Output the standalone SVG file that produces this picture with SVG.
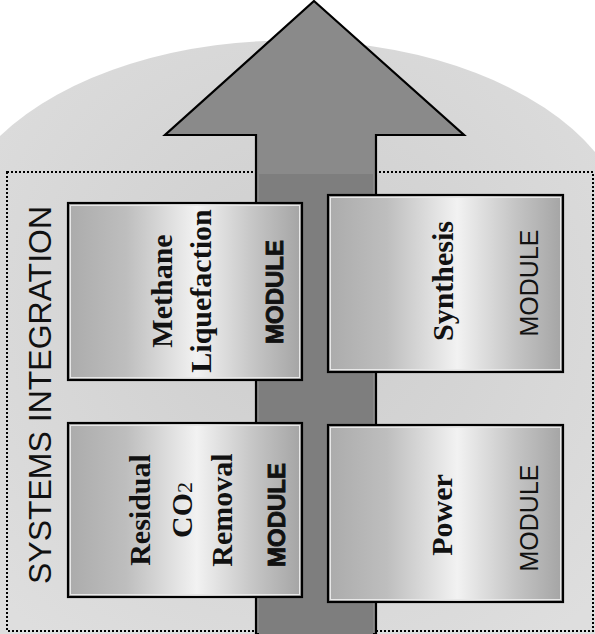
<svg xmlns="http://www.w3.org/2000/svg" width="595" height="634" viewBox="0 0 595 634">
  <defs>
    <linearGradient id="boxfill" x1="0" y1="0" x2="1" y2="0">
      <stop offset="0" stop-color="#ababab"/>
      <stop offset="0.25" stop-color="#bebebe"/>
      <stop offset="0.55" stop-color="#f2f2f2"/>
      <stop offset="0.8" stop-color="#c4c4c4"/>
      <stop offset="1" stop-color="#a4a4a4"/>
    </linearGradient>
    <radialGradient id="bg" cx="0.5" cy="0.45" r="0.7">
      <stop offset="0" stop-color="#cdcdcd"/>
      <stop offset="1" stop-color="#dedede"/>
    </radialGradient>
  </defs>
  <style>
    .box { fill: url(#boxfill); stroke: #000; stroke-width: 2.2; }
    .inner { fill: none; stroke: #e8e8e8; stroke-width: 1; }
    .title { font-family: "Liberation Serif", "Times New Roman", serif; font-weight: bold; font-size: 30px; fill: #111; text-anchor: middle; }
    .modb { font-family: "Liberation Sans", Arial, sans-serif; font-weight: bold; font-size: 24px; fill: #111; stroke: #111; stroke-width: 0.9; text-anchor: middle; }
    .modr { font-family: "Liberation Sans", Arial, sans-serif; font-size: 25px; fill: #111; text-anchor: middle; }
    .sys { font-family: "Liberation Sans", Arial, sans-serif; font-size: 32px; fill: #111; text-anchor: middle; }
  </style>

  <rect x="0" y="0" width="595" height="634" fill="#ffffff"/>
  <g id="background">
    <path d="M0,136 A340,200 0 0 1 595,152 L595,634 L0,634 Z" fill="url(#bg)"/>
    <rect x="7" y="172" width="586" height="459" fill="none" stroke="#000" stroke-width="2" stroke-dasharray="2,2"/>
  </g>

  <g id="connectors">
    <path d="M314,1 L464,135 L376,135 L376,634 L256,634 L256,135 L165,135 Z" fill="#8a8a8a" stroke="#000" stroke-width="2.2" stroke-linejoin="miter"/>
    <rect x="259" y="174" width="114" height="460" fill="#7e7e7e"/>
  </g>

  <g id="systems-integration">
    <text class="sys" transform="translate(51,395) rotate(-90)">SYSTEMS INTEGRATION</text>
  </g>

  <g id="methane-liquefaction">
    <rect class="box" x="68" y="203" width="234" height="177"/>
    <rect class="inner" x="70.5" y="205.5" width="229" height="172"/>
    <text class="title" transform="translate(172,291) rotate(-90)">Methane</text>
    <text class="title" transform="translate(211,291) rotate(-90)">Liquefaction</text>
    <text class="modb" transform="translate(283,292) rotate(-90)">MODULE</text>
  </g>

  <g id="synthesis">
    <rect class="box" x="328" y="195" width="235" height="177"/>
    <rect class="inner" x="330.5" y="197.5" width="230" height="172"/>
    <text class="title" transform="translate(453,281) rotate(-90)">Synthesis</text>
    <text class="modr" transform="translate(538,283) rotate(-90)">MODULE</text>
  </g>

  <g id="residual-co2-removal">
    <rect class="box" x="68" y="423" width="234" height="174"/>
    <rect class="inner" x="70.5" y="425.5" width="229" height="169"/>
    <text class="title" transform="translate(150,510) rotate(-90)">Residual</text>
    <text class="title" transform="translate(192,510) rotate(-90)">CO<tspan font-size="22" font-weight="normal">2</tspan></text>
    <text class="title" transform="translate(232,510) rotate(-90)">Removal</text>
    <text class="modb" transform="translate(285,515) rotate(-90)">MODULE</text>
  </g>

  <g id="power">
    <rect class="box" x="328" y="425" width="235" height="177"/>
    <rect class="inner" x="330.5" y="427.5" width="230" height="172"/>
    <text class="title" transform="translate(452,515) rotate(-90)">Power</text>
    <text class="modr" transform="translate(538,518) rotate(-90)">MODULE</text>
  </g>
</svg>
